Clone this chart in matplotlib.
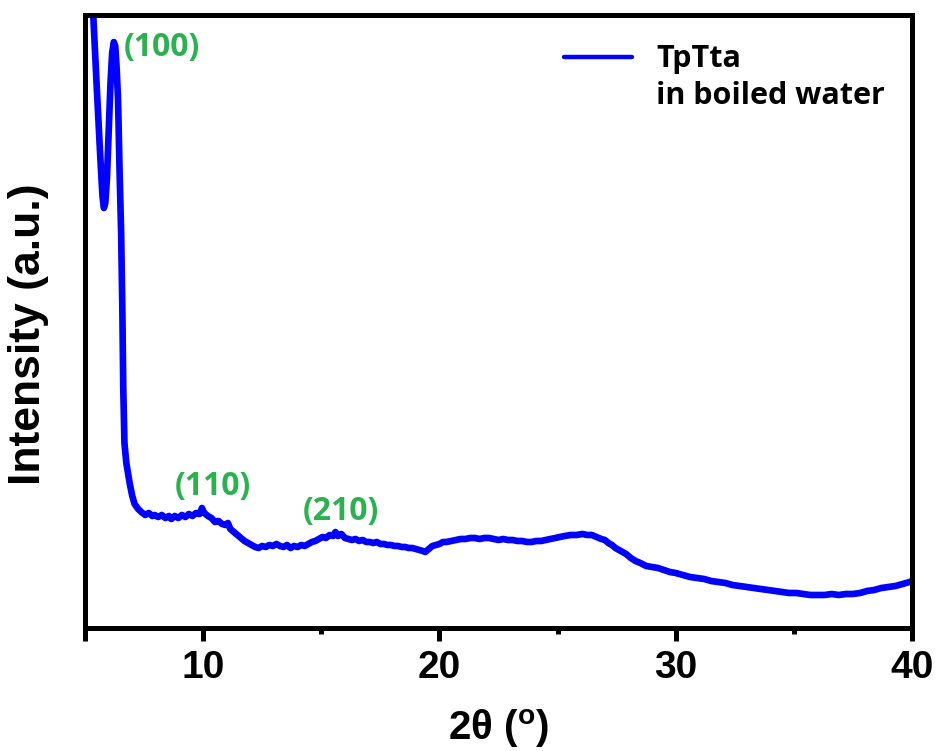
import matplotlib
matplotlib.use("Agg")
import matplotlib.pyplot as plt
from matplotlib.lines import Line2D
from matplotlib.ticker import FixedLocator

plt.rcParams["mathtext.fontset"] = "custom"
plt.rcParams["mathtext.rm"] = "Liberation Sans"
plt.rcParams["mathtext.bf"] = "Liberation Sans:bold"

# XRD pattern of TpTta after boiling water treatment
two_theta = [5.06, 5.35, 5.50, 5.65, 5.74, 5.80, 5.86, 5.93, 6.00, 6.08, 6.15, 6.22, 6.28,
             6.34, 6.40, 6.46, 6.53, 6.58, 6.62, 6.67, 6.75, 6.89, 7.00, 7.10, 7.25, 7.38,
             7.55, 7.70, 7.85, 7.95, 8.10, 8.25, 8.40, 8.55, 8.65, 8.80, 8.95, 9.10, 9.25,
             9.40, 9.55, 9.70, 9.85, 9.95, 10.02, 10.10, 10.20, 10.35, 10.50, 10.65, 10.80,
             10.95, 11.05, 11.15, 11.30, 11.45, 11.60, 11.75, 11.90, 12.05, 12.20, 12.35,
             12.50, 12.65, 12.80, 12.95, 13.10, 13.25, 13.40, 13.55, 13.70, 13.85, 14.00,
             14.15, 14.30, 14.45, 14.60, 14.75, 14.90, 15.05, 15.20, 15.35, 15.50, 15.60,
             15.70, 15.85, 16.00, 16.15, 16.30, 16.45, 16.60, 16.75, 16.90, 17.05, 17.20,
             17.35, 17.50, 17.65, 17.80, 17.95, 18.10, 18.25, 18.40, 18.55, 18.70, 18.85,
             19.00, 19.15, 19.30, 19.40, 19.55, 19.70, 19.85, 20.00, 20.15, 20.30, 20.50,
             20.70, 20.90, 21.10, 21.30, 21.50, 21.70, 21.90, 22.10, 22.30, 22.50, 22.70,
             22.90, 23.10, 23.30, 23.50, 23.70, 23.90, 24.10, 24.30, 24.50, 24.70, 24.90,
             25.10, 25.30, 25.55, 25.80, 26.05, 26.25, 26.45, 26.65, 26.85, 27.00, 27.15,
             27.30, 27.45, 27.60, 27.75, 27.90, 28.10, 28.30, 28.50, 28.75, 29.00, 29.25,
             29.50, 29.75, 30.00, 30.30, 30.60, 30.90, 31.20, 31.50, 31.80, 32.10, 32.40,
             32.70, 33.00, 33.30, 33.60, 33.90, 34.20, 34.50, 34.80, 35.10, 35.40, 35.70,
             36.00, 36.30, 36.60, 36.90, 37.20, 37.50, 37.80, 38.10, 38.40, 38.70, 39.00,
             39.30, 39.60, 39.90, 40.00]
intensity = [779, 613, 540, 470, 432, 420, 425, 450, 495, 545, 575, 586, 582,
             560, 528, 461, 395, 320, 240, 185, 165, 145, 132, 124, 119, 116,
             113, 115, 112, 113, 111, 113, 110, 112, 109, 112, 110, 113, 111,
             114, 112, 115, 114, 120, 116, 114, 112, 110, 106, 107, 104,
             103, 105, 99, 96, 93, 90, 87, 85, 83, 81, 80,
             82, 81, 83, 82, 84, 82, 81, 83, 80, 82, 81,
             83, 82, 84, 86, 87, 89, 91, 90, 93, 92, 96,
             92, 94, 90, 89, 88, 89, 87, 88, 86, 86, 85,
             86, 84, 84, 83, 83, 82, 82, 81, 81, 80, 80,
             79, 78, 77, 76, 79, 82, 83, 84, 86, 86, 87,
             88, 89, 89, 90, 90, 89, 90, 90, 89, 88, 89,
             88, 88, 87, 87, 86, 86, 87, 87, 88, 89, 90,
             91, 92, 93, 93, 94, 93, 93, 91, 89, 88, 85,
             83, 80, 78, 76, 74, 70, 67, 65, 62, 61, 60,
             58, 56, 55, 53, 51, 50, 49, 47, 46, 45, 43,
             42, 41, 40, 39, 38, 37, 36, 35, 35, 34, 33,
             33, 33, 34, 33, 34, 34, 35, 37, 38, 40, 41,
             42, 44, 46, 47]

# peak indexing
peak_labels = ["(100)", "(110)", "(210)"]
peak_x = [6.62, 10.4, 15.83]
peak_y = [581, 141, 116]

major_ticks = [5, 10, 20, 30, 40]
major_labels = ["", "10", "20", "30", "40"]
minor_ticks = [15, 25, 35]

fig = plt.figure(figsize=(9.38, 7.51), dpi=100)
ax = fig.add_axes([0.0906, 0.1638, 0.8817, 0.8162])

line, = ax.plot(two_theta, intensity, color="#0000ff", lw=4.8,
                solid_joinstyle="round", solid_capstyle="round")

ax.set_xlim(5, 40)
ax.set_ylim(0, 613)

for s in ax.spines.values():
    s.set_linewidth(3.6)

ax.set_xticks(major_ticks)
ax.set_xticklabels(major_labels)
ax.xaxis.set_minor_locator(FixedLocator(minor_ticks))
ax.tick_params(axis="x", which="major", direction="out", length=9, width=3.6, pad=7)
ax.tick_params(axis="x", which="minor", direction="out", length=4.5, width=3.6)
ax.set_yticks([])
for lab in ax.get_xticklabels():
    lab.set_fontfamily("Liberation Sans")
    lab.set_fontweight("bold")
    lab.set_fontsize(28)

ax.set_xlabel(r"2θ ($\mathbf{^o}$)", fontfamily="Liberation Sans", fontweight="bold",
              fontsize=29, labelpad=15)
ax.set_ylabel("Intensity (a.u.)", fontfamily="Liberation Sans", fontweight="bold", fontsize=32)
ax.yaxis.set_label_coords(-0.043, 0.48)

for lab, px, py in zip(peak_labels, peak_x, peak_y):
    ax.text(px, py, lab, color="#2db04f", fontfamily="Open Sans", fontweight="bold",
            fontsize=23, ha="left" if lab == "(100)" else "center", va="center")

blank = Line2D([], [], color="none")
leg = ax.legend([line, blank], ["TpTta", "in boiled water"], loc="upper right",
                bbox_to_anchor=(0.967, 0.952), frameon=False, borderpad=0, borderaxespad=0,
                handlelength=2.2, handletextpad=0.8, labelspacing=0.2,
                prop={"family": "Open Sans", "weight": "bold", "size": 22})
leg.get_lines()[0].set_linewidth(3.2)

fig.savefig("out.png", dpi=100)
